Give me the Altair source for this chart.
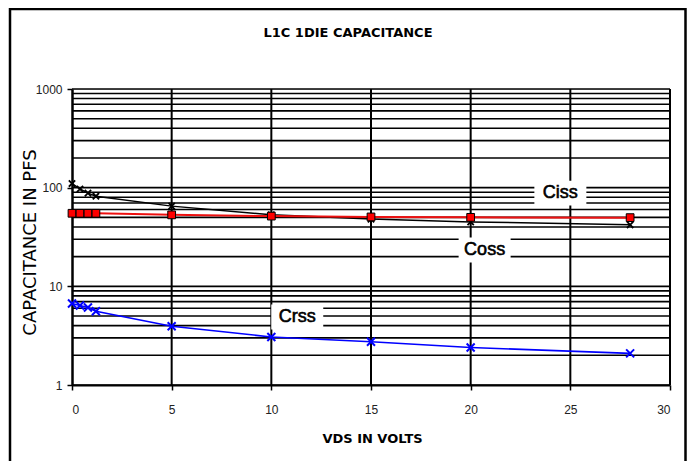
import altair as alt
import pandas as pd

# ---- data ----
vds = [0, 0.4, 0.8, 1.2, 5, 10, 15, 20, 28]
ciss = [110, 97, 88, 82, 65, 53, 48, 45, 42]
coss = [55, 55, 55, 55, 53, 51.5, 50.5, 50, 49.7]
crss = [6.7, 6.4, 6.1, 5.6, 3.94, 3.07, 2.74, 2.4, 2.09]

label_names = ["Ciss", "Coss", "Crss"]
label_x = [24.5, 20.7, 11.3]
label_y = [88, 23.4, 4.9]

chart_title = ["L1C 1DIE  CAPACITANCE"]

y_grid = [m * d for d in [1, 10, 100] for m in range(1, 10)] + [1000]
x_grid = [5, 10, 15, 20, 25, 30]
x_ticks = [0, 5, 10, 15, 20, 25, 30]
y_ticks = [1, 10, 100, 1000]

df = pd.DataFrame({"vds": vds, "Ciss": ciss, "Coss": coss, "Crss": crss})
lab = pd.DataFrame({"name": label_names, "x": label_x, "y": label_y})
yg = pd.DataFrame({"gy": y_grid})
xg = pd.DataFrame({"gx": x_grid})
tdf = pd.DataFrame({"t": chart_title})

xs = alt.Scale(domain=[0, 30], nice=False, zero=False)
ys = alt.Scale(type="log", domain=[1, 1000], nice=False)

FONT = "Liberation Sans"

x_axis = alt.Axis(values=x_ticks, grid=False, domainColor="black", domainWidth=2,
                  tickColor="black", tickSize=5, tickWidth=1.5, labelFont=FONT,
                  labelFontSize=12, labelColor="#222", labelPadding=14,
                  title="VDS IN VOLTS", titleFont="DejaVu Sans", titleFontSize=13,
                  titleFontWeight="bold", titleColor="black", titleX=300, titleY=53,
                  titleBaseline="middle", titleAlign="center")
y_axis = alt.Axis(values=y_ticks, grid=False, domainColor="black", domainWidth=2.5,
                  tickColor="black", tickSize=5, tickWidth=1.5, labelFont=FONT,
                  labelFontSize=12, labelColor="#222", labelPadding=5,
                  format="d",
                  title="CAPACITANCE IN PFS", titleFont="DejaVu Sans", titleFontSize=18,
                  titleFontWeight="normal", titleColor="black", titleX=-42, titleY=153,
                  titleAngle=-90, titleBaseline="middle", titleAlign="center")


def X(f):
    return alt.X(f + ":Q", scale=xs, axis=x_axis)


def Y(f):
    return alt.Y(f + ":Q", scale=ys, axis=y_axis)


base = alt.Chart(df)

hgrid = alt.Chart(yg).mark_rule(color="black", strokeWidth=1.6).encode(y=Y("gy"))
vgrid = alt.Chart(xg).mark_rule(color="black", strokeWidth=2).encode(x=X("gx"))

xpath = "M-1,-1L1,1M-1,1L1,-1"
ciss_line = base.mark_line(color="black", strokeWidth=1.5).encode(x=X("vds"), y=Y("Ciss"))
ciss_pts = base.mark_point(shape=xpath, color="black", strokeWidth=1.8, size=40,
                           filled=False, opacity=1).encode(x=X("vds"), y=Y("Ciss"))
coss_line = base.mark_line(color="#ee1111", strokeWidth=2).encode(x=X("vds"), y=Y("Coss"))
coss_pts = base.mark_point(shape="square", fill="#ff0000", stroke="black", strokeWidth=1,
                           size=60, filled=True, opacity=1).encode(x=X("vds"), y=Y("Coss"))
crss_line = base.mark_line(color="#0000ff", strokeWidth=1.6).encode(x=X("vds"), y=Y("Crss"))
crss_pts = base.mark_point(shape=xpath, color="#0000ff", strokeWidth=2, size=64,
                           filled=False, opacity=1).encode(x=X("vds"), y=Y("Crss"))

boxes = alt.Chart(lab).mark_point(shape="M-1,-0.48L1,-0.48L1,0.48L-1,0.48Z", fill="white",
                                  filled=True, opacity=1, size=2704, strokeWidth=0).encode(
    x=X("x"), y=Y("y"))
texts = alt.Chart(lab).mark_text(font=FONT, fontSize=18, fontWeight="normal", color="black",
                                 stroke="black", strokeWidth=0.6,
                                 align="center", baseline="middle").encode(
    x=X("x"), y=Y("y"), text="name:N")

title_txt = alt.Chart(tdf).mark_text(font="DejaVu Sans", fontSize=13, fontWeight="bold",
                                     color="black", align="center", baseline="middle").encode(
    x=alt.value(276), y=alt.value(-56), text="t:N")

frame = alt.Chart(pd.DataFrame({"a": [0]})).mark_rect(fill=None, stroke="black", strokeWidth=2.5).encode(
    x=alt.value(-62), x2=alt.value(613.5), y=alt.value(-80), y2=alt.value(420))

chart = alt.layer(
    hgrid, vgrid, ciss_line, ciss_pts, coss_line, coss_pts, crss_line, crss_pts,
    boxes, texts, title_txt, frame
).properties(
    width=598, height=296,
    autosize=alt.AutoSizeParams(type="none"),
    padding={"left": 64, "top": 81, "right": 17, "bottom": 76},
).configure_view(stroke=None).configure(background="white")

chart.save("out.html", embed_options={"renderer": "svg", "actions": False})
